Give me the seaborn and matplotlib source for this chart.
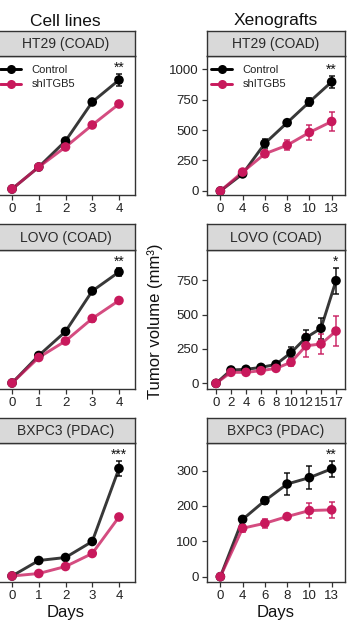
import numpy as np
import pandas as pd
import matplotlib
matplotlib.use("Agg")
import matplotlib.pyplot as plt
from matplotlib.lines import Line2D
import seaborn as sns

# ---------------- data ----------------
cell_days = ["0", "1", "2", "3", "4"]

ht29_cell_ctrl = [0.25, 0.69, 1.21, 1.99, 2.43]
ht29_cell_ctrl_err = [0.02, 0.03, 0.03, 0.04, 0.12]
ht29_cell_sh = [0.25, 0.69, 1.09, 1.53, 1.95]
ht29_cell_sh_err = [0.02, 0.03, 0.03, 0.04, 0.04]

lovo_cell_ctrl = [0.25, 0.80, 1.28, 2.09, 2.47]
lovo_cell_ctrl_err = [0.02, 0.03, 0.03, 0.04, 0.08]
lovo_cell_sh = [0.25, 0.76, 1.09, 1.54, 1.90]
lovo_cell_sh_err = [0.02, 0.03, 0.03, 0.06, 0.04]

bxpc3_cell_ctrl = [0.25, 0.56, 0.62, 0.94, 2.40]
bxpc3_cell_ctrl_err = [0.02, 0.03, 0.03, 0.04, 0.15]
bxpc3_cell_sh = [0.25, 0.30, 0.44, 0.70, 1.43]
bxpc3_cell_sh_err = [0.02, 0.02, 0.03, 0.03, 0.04]

ht29_xeno_days = ["0", "4", "6", "8", "10", "13"]
ht29_xeno_ctrl = [0, 140, 390, 560, 730, 895]
ht29_xeno_ctrl_err = [0, 15, 35, 25, 30, 50]
ht29_xeno_sh = [0, 155, 305, 375, 480, 570]
ht29_xeno_sh_err = [0, 15, 30, 40, 60, 75]

lovo_xeno_days = ["0", "2", "4", "6", "8", "10", "12", "15", "17"]
lovo_xeno_ctrl = [0, 97, 102, 116, 138, 223, 332, 400, 746]
lovo_xeno_ctrl_err = [0, 10, 10, 12, 15, 40, 55, 75, 95]
lovo_xeno_sh = [0, 80, 80, 92, 109, 153, 273, 286, 380]
lovo_xeno_sh_err = [0, 10, 10, 12, 15, 25, 85, 75, 110]

bxpc3_xeno_days = ["0", "4", "6", "8", "10", "13"]
bxpc3_xeno_ctrl = [0, 162, 215, 262, 280, 305]
bxpc3_xeno_ctrl_err = [0, 5, 10, 32, 33, 23]
bxpc3_xeno_sh = [0, 137, 151, 170, 187, 189]
bxpc3_xeno_sh_err = [0, 10, 12, 8, 20, 22]

strip_titles = ["HT29 (COAD)", "LOVO (COAD)", "BXPC3 (PDAC)"]
cell_sig = ["**", "**", "***"]
xeno_sig = ["**", "*", "**"]
groups = ["Control", "shITGB5"]

# ---------------- style ----------------
sns.set_theme(style="ticks")
plt.rcParams["font.family"] = ["Liberation Sans", "DejaVu Sans"]
PAL = {"Control": "#000000", "shITGB5": "#C8195C"}
FRAME = "#333333"
TEXT = "#222222"

W, H = 348, 622
fig = plt.figure(figsize=(W / 100, H / 100), dpi=100)


def rect(x0, y0, x1, y1):
    return [x0 / W, 1 - y1 / H, (x1 - x0) / W, (y1 - y0) / H]


cols = [(-4, 135), (207, 345)]
rows = [(31, 56, 195), (224, 250, 389), (418, 443, 582)]


def panel(ax, labels, series, ylim, yticks, sig, show_y):
    pos = np.arange(len(labels))
    for grp, (mean, err) in zip(groups, series):
        col = PAL[grp]
        df = pd.DataFrame({"day": pos, "value": mean})
        ax.errorbar(pos, mean, yerr=err, fmt="none", ecolor=col,
                    elinewidth=1.1, capsize=2.2, capthick=1.1, alpha=0.9, zorder=2)
        sns.lineplot(data=df, x="day", y="value", color=col, linewidth=2.1,
                     alpha=0.78, ax=ax, zorder=2)
        sns.scatterplot(data=df, x="day", y="value", color=col, s=48,
                        edgecolor="none", linewidth=0, ax=ax, zorder=3)
    ctrl_mean, ctrl_err = series[0]
    ax.annotate(sig, xy=(pos[-1], ctrl_mean[-1] + ctrl_err[-1]), xytext=(0, 1.5),
                textcoords="offset points", ha="center", va="baseline",
                fontsize=10, color="#111111")
    ax.set_xlim(-0.6, len(labels) - 1 + 0.6)
    ax.set_ylim(*ylim)
    ax.set_xticks(pos)
    ax.set_xticklabels(labels)
    ax.set_xlabel("")
    ax.set_ylabel("")
    if show_y:
        ax.set_yticks(yticks)
        ax.set_yticklabels([str(t) for t in yticks])
    else:
        ax.set_yticks([])
    ax.tick_params(axis="both", length=3.5, width=0.9, color=FRAME, pad=2.5,
                   labelsize=9.5, labelcolor=TEXT)
    for sp in ax.spines.values():
        sp.set_visible(True)
        sp.set_color(FRAME)
        sp.set_linewidth(1.0)
    ax.set_facecolor("white")


def strip(x0, x1, ytop, ybot, title):
    sax = fig.add_axes(rect(x0, ytop, x1, ybot))
    sax.set_facecolor("#D9D9D9")
    sax.set_xticks([])
    sax.set_yticks([])
    for sp in sax.spines.values():
        sp.set_color(FRAME)
        sp.set_linewidth(1.0)
    sax.text(0.5, 0.48, title, ha="center", va="center", fontsize=10,
             color="#2a2a2a", transform=sax.transAxes)


cell_panels = [
    ((ht29_cell_ctrl, ht29_cell_ctrl_err), (ht29_cell_sh, ht29_cell_sh_err)),
    ((lovo_cell_ctrl, lovo_cell_ctrl_err), (lovo_cell_sh, lovo_cell_sh_err)),
    ((bxpc3_cell_ctrl, bxpc3_cell_ctrl_err), (bxpc3_cell_sh, bxpc3_cell_sh_err)),
]
xeno_panels = [
    (ht29_xeno_days, ((ht29_xeno_ctrl, ht29_xeno_ctrl_err), (ht29_xeno_sh, ht29_xeno_sh_err)),
     (-33, 1107), [0, 250, 500, 750, 1000]),
    (lovo_xeno_days, ((lovo_xeno_ctrl, lovo_xeno_ctrl_err), (lovo_xeno_sh, lovo_xeno_sh_err)),
     (-41, 969), [0, 250, 500, 750]),
    (bxpc3_xeno_days, ((bxpc3_xeno_ctrl, bxpc3_xeno_ctrl_err), (bxpc3_xeno_sh, bxpc3_xeno_sh_err)),
     (-15, 378), [0, 100, 200, 300]),
]

axes = []
for r, (stop, atop, abot) in enumerate(rows):
    # cell lines column
    x0, x1 = cols[0]
    ax = fig.add_axes(rect(x0, atop, x1, abot))
    panel(ax, cell_days, cell_panels[r], (0.13, 2.91), None, cell_sig[r], False)
    strip(x0, x1, stop, atop, strip_titles[r])
    axes.append(ax)
    # xenograft column
    x0, x1 = cols[1]
    labels, series, ylim, yticks = xeno_panels[r]
    ax = fig.add_axes(rect(x0, atop, x1, abot))
    panel(ax, labels, series, ylim, yticks, xeno_sig[r], True)
    strip(x0, x1, stop, atop, strip_titles[r])
    axes.append(ax)

# legends in the top row
handles = [Line2D([], [], color=PAL[g], lw=2.1, marker="o", markersize=6.5,
                  markeredgewidth=0) for g in groups]
for ax in axes[:2]:
    ax.legend(handles, groups, loc="upper left", bbox_to_anchor=(0.03, 0.935),
              frameon=False, fontsize=8, handlelength=1.9, handletextpad=0.9,
              labelspacing=0.4, borderpad=0, borderaxespad=0, labelcolor=TEXT)

# column titles, shared labels
fig.text(65.5 / W, 1 - 25.5 / H, "Cell lines", ha="center", va="baseline",
         fontsize=12.5, color="#111111")
fig.text(276 / W, 1 - 25.5 / H, "Xenografts", ha="center", va="baseline",
         fontsize=12.5, color="#111111")
fig.text(66 / W, 1 - 616.5 / H, "Days", ha="center", va="baseline",
         fontsize=12, color="#111111")
fig.text(275.5 / W, 1 - 616.5 / H, "Days", ha="center", va="baseline",
         fontsize=12, color="#111111")
fig.text(155 / W, 1 - 321 / H, "Tumor volume (mm³)", ha="center", va="center",
         rotation=90, fontsize=12, color="#111111")

fig.savefig("out.png", dpi=100, facecolor="white")
